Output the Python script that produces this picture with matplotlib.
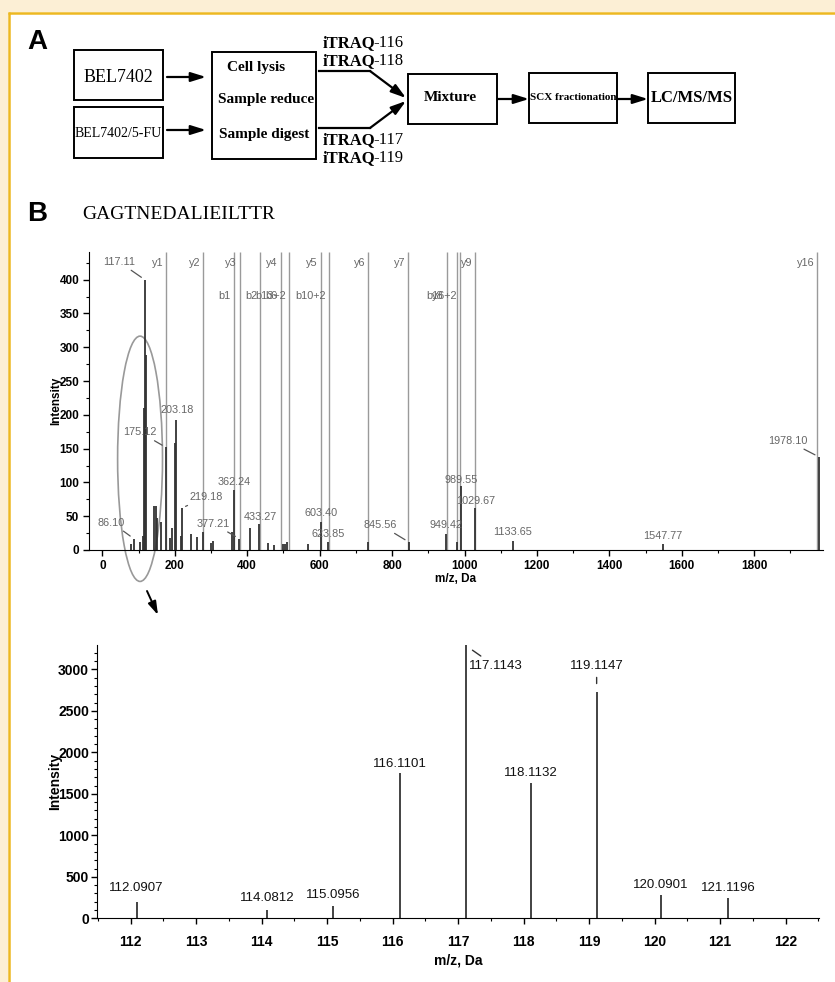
import matplotlib
matplotlib.use("Agg")
import matplotlib.pyplot as plt
from matplotlib.patches import Rectangle, Ellipse
from matplotlib.ticker import MultipleLocator
from matplotlib import font_manager

# ---- data: MS/MS spectrum of GAGTNEDALIEILTTR ----
frag_mz = [177, 278, 363, 380, 436, 492, 515, 603, 625, 734, 845, 951, 980, 988, 1029, 1974]

y_ion_labels = ["y1", "y2", "y3", "y4", "y5", "y6", "y7", "y9", "y16"]
y_ion_mz = [177, 278, 380, 492, 603, 734, 845, 1029, 1974]
b_ion_labels = ["b1", "b2", "b6", "b13+2", "b10+2", "y8", "b16+2"]
b_ion_mz = [363, 436, 492, 515, 625, 951, 988]

peak_mz = [78, 86.10, 105, 113, 116.11, 117.11, 118.11, 119.11, 143, 147, 150, 161,
           175.12, 186, 191, 201, 203.18, 216, 219.18, 244, 262, 277, 299, 306, 358,
           362.24, 377.21, 407, 433.27, 457, 473, 499, 503, 510, 568, 603.40, 623.85,
           734, 845.56, 949.42, 980, 989.55, 1029.67, 1133.65, 1547.77, 1978.10]
peak_int = [9, 17, 12, 21, 210, 400, 198, 288, 65, 65, 48, 42,
            152, 18, 32, 158, 193, 21, 62, 24, 19, 27, 10, 13, 26,
            89, 17, 32, 38, 10, 8, 9, 9, 12, 9, 42, 12,
            12, 12, 24, 12, 94, 62, 14, 9, 138]

labeled_mz = ["86.10", "117.11", "175.12", "203.18", "219.18", "362.24", "377.21",
              "433.27", "603.40", "623.85", "845.56", "949.42", "989.55", "1029.67",
              "1133.65", "1547.77", "1978.10"]

# ---- data: iTRAQ reporter region ----
rep_mz = [112.0907, 114.0812, 115.0956, 116.1101, 117.1143, 118.1132, 119.1147, 120.0901, 121.1196]
rep_int = [200, 100, 152, 1747, 3290, 1634, 2730, 281, 248]

# label offsets in pixels (dx, dy, leader)
top_offsets = {
    "86.10": (-22, 16, True), "117.11": (-26, 18, True), "175.12": (-26, 15, True),
    "203.18": (1, 10, False), "219.18": (24, 11, True), "362.24": (1, 8, False),
    "377.21": (-26, 15, True), "433.27": (1, 7, False), "603.40": (0, 9, False),
    "623.85": (0, 8, False), "845.56": (-28, 17, True), "949.42": (0, 9, False),
    "989.55": (0, 6, False), "1029.67": (0, 7, False), "1133.65": (0, 9, False),
    "1547.77": (0, 8, False), "1978.10": (-31, 16, True),
}
rep_offsets = [(0, 8, False), (0, 6, False), (0, 5, False), (0, 3, False),
               (30, -21, True), (0, 4, False), (0, 26, True), (0, 4, False), (0, 4, False)]

names = {f.name for f in font_manager.fontManager.ttflist}
NARROW = "Liberation Sans Narrow" if "Liberation Sans Narrow" in names else "Liberation Sans"
SERIF = "Liberation Serif"

fig = plt.figure(figsize=(8.35, 9.82), dpi=100)

# ---- page frame and panel A flowchart (pixel coordinates) ----
bg = fig.add_axes([0, 0, 1, 1])
bg.set_xlim(0, 835)
bg.set_ylim(982, 0)
bg.axis("off")
bg.add_patch(Rectangle((0, 0), 835, 12, fc="#FCEFD5", ec="none"))
bg.add_patch(Rectangle((0, 0), 8, 982, fc="#FCEFD5", ec="none"))
bg.plot([8, 835], [12.5, 12.5], color="#EDB821", lw=1.8, solid_capstyle="butt")
bg.plot([9, 9], [12, 982], color="#EDB821", lw=1.8, solid_capstyle="butt")

bg.text(27, 42, "A", fontsize=20, fontweight="bold", family="Liberation Sans", va="center")
bg.text(27, 214, "B", fontsize=20, fontweight="bold", family="Liberation Sans", va="center")
bg.text(82, 214, "GAGTNEDALIEILTTR", fontsize=14, family=SERIF, va="center")

for (x, y, w, h) in [(74, 50, 89, 50), (74, 107, 89, 51), (212, 52, 104, 107),
                     (408, 74, 89, 50), (529, 73, 88, 50), (648, 73, 87, 50)]:
    bg.add_patch(Rectangle((x, y), w, h, fill=False, ec="black", lw=1.4))

bg.text(118, 77, "BEL7402", fontsize=13, family=SERIF, ha="center", va="center")
bg.text(118.5, 133, "BEL7402/5-FU", fontsize=10, family=SERIF, ha="center", va="center")
bg.text(256, 67, "Cell lysis", fontsize=11, family=SERIF, fontweight="bold", ha="center", va="center")
bg.text(266, 99, "Sample reduce", fontsize=11, family=SERIF, fontweight="bold", ha="center", va="center")
bg.text(264, 134, "Sample digest", fontsize=11, family=SERIF, fontweight="bold", ha="center", va="center")
bg.text(450, 97, "Mixture", fontsize=11, family=SERIF, fontweight="bold", ha="center", va="center")
bg.text(573, 97, "SCX fractionation", fontsize=8, family=SERIF, fontweight="bold", ha="center", va="center")
bg.text(692, 98, "LC/MS/MS", fontsize=12, family=SERIF, fontweight="bold", ha="center", va="center")

for ty, num in [(43, "-116"), (61, "-118"), (140, "-117"), (158, "-119")]:
    bg.text(323, ty, "iTRAQ", fontsize=12, family=SERIF, fontweight="bold", va="center")
    bg.text(373, ty, num, fontsize=12, family=SERIF, va="center")

arrow_kw = dict(arrowstyle="-|>,head_length=0.9,head_width=0.28", color="black", lw=1.6,
                shrinkA=0, shrinkB=0)
for (x0, y0, x1, y1) in [(167, 77, 206, 77), (167, 130, 206, 130), (498, 99, 529, 99), (618, 99, 648, 99)]:
    bg.annotate("", xy=(x1, y1), xytext=(x0, y0), arrowprops=arrow_kw)
bg.plot([319, 370], [71, 71], color="black", lw=1.6)
bg.plot([319, 370], [128, 128], color="black", lw=1.6)
bg.annotate("", xy=(406, 98), xytext=(370, 71), arrowprops=arrow_kw)
bg.annotate("", xy=(406, 101), xytext=(370, 128), arrowprops=arrow_kw)
# zoom arrow from ellipse to lower panel
bg.annotate("", xy=(158, 615), xytext=(147, 591), arrowprops=dict(arrowstyle="-|>,head_length=0.8,head_width=0.25",
                                                                     color="black", lw=1.4, shrinkA=0, shrinkB=0))

# ---- panel B, full spectrum ----
ax1 = fig.add_axes([89 / 835, 1 - 550 / 982, 734 / 835, 298 / 982])
ax1.vlines(frag_mz, 0, 441, color="#9a9a9a", lw=1.0)
ax1.vlines(peak_mz, 0, peak_int, color="#333333", lw=1.3)
ax1.set_xlim(-37, 1990)
ax1.set_ylim(0, 441)
for s in ["top", "right"]:
    ax1.spines[s].set_visible(False)
ax1.xaxis.set_major_locator(MultipleLocator(200))
ax1.xaxis.set_minor_locator(MultipleLocator(100))
ax1.yaxis.set_major_locator(MultipleLocator(50))
ax1.yaxis.set_minor_locator(MultipleLocator(25))
ax1.tick_params(which="major", length=4, width=1, pad=3, labelsize=8.5)
ax1.tick_params(which="minor", length=2.5, width=0.8)
for lab in ax1.get_xticklabels() + ax1.get_yticklabels():
    lab.set_family(NARROW)
    lab.set_fontweight("bold")
ax1.set_xlabel("m/z, Da", fontsize=8.5, family=NARROW, fontweight="bold", labelpad=1)
ax1.set_ylabel("Intensity", fontsize=8.5, family=NARROW, fontweight="bold")
ax1.yaxis.set_label_coords(-0.037, 0.5)

for lab, mz in zip(y_ion_labels, y_ion_mz):
    ax1.annotate(lab, xy=(mz, 425), xytext=(-3, 0), textcoords="offset pixels",
                 ha="right", va="center", fontsize=7.8, color="#666666", family="Liberation Sans")
for lab, mz in zip(b_ion_labels, b_ion_mz):
    ax1.annotate(lab, xy=(mz, 376), xytext=(-3, 0), textcoords="offset pixels",
                 ha="right", va="center", fontsize=7.8, color="#666666", family="Liberation Sans")

for lab in labeled_mz:
    mz = float(lab)
    i = min(range(len(peak_mz)), key=lambda k: abs(peak_mz[k] - mz))
    dx, dy, leader = top_offsets[lab]
    props = dict(arrowstyle="-", color="#555555", lw=0.9, shrinkA=1, shrinkB=3) if leader else None
    ax1.annotate(lab, xy=(peak_mz[i], peak_int[i]), xytext=(dx, dy), textcoords="offset pixels",
                 ha="center", va="center", fontsize=7.8, color="#666666", family="Liberation Sans",
                 arrowprops=props)

ax1.add_patch(Ellipse((104, 135), width=124, height=363, fill=False, ec="#999999", lw=1.2, clip_on=False))

# ---- panel B, reporter ion region ----
ax2 = fig.add_axes([97.3 / 835, 1 - 918.3 / 982, 721.7 / 835, 273.3 / 982])
ax2.vlines(rep_mz, 0, rep_int, color="#222222", lw=1.2)
ax2.set_xlim(111.49, 122.51)
ax2.set_ylim(0, 3295)
for s in ["top", "right"]:
    ax2.spines[s].set_visible(False)
ax2.xaxis.set_major_locator(MultipleLocator(1))
ax2.xaxis.set_minor_locator(MultipleLocator(0.5))
ax2.yaxis.set_major_locator(MultipleLocator(500))
ax2.yaxis.set_minor_locator(MultipleLocator(100))
ax2.tick_params(which="major", length=4, width=1, labelsize=10)
ax2.tick_params(axis="x", which="major", pad=8)
ax2.tick_params(axis="y", which="major", pad=2)
ax2.tick_params(which="minor", length=2.5, width=0.8)
for lab in ax2.get_xticklabels() + ax2.get_yticklabels():
    lab.set_family(NARROW)
    lab.set_fontweight("bold")
ax2.set_xlabel("m/z, Da", fontsize=10, family=NARROW, fontweight="bold", labelpad=3)
ax2.set_ylabel("Intensity", fontsize=10, family=NARROW, fontweight="bold")
ax2.yaxis.set_label_coords(-0.049, 0.5)

for mz, inten, (dx, dy, leader) in zip(rep_mz, rep_int, rep_offsets):
    props = dict(arrowstyle="-", color="#333333", lw=1.0, shrinkA=2, shrinkB=6) if leader else None
    ax2.annotate(f"{mz:.4f}", xy=(mz, inten), xytext=(dx, dy), textcoords="offset pixels",
                 ha="center", va="bottom" if not leader else "center", fontsize=9.5,
                 family=NARROW, color="#111111", arrowprops=props)

fig.savefig("out.png", dpi=100, facecolor="white")
